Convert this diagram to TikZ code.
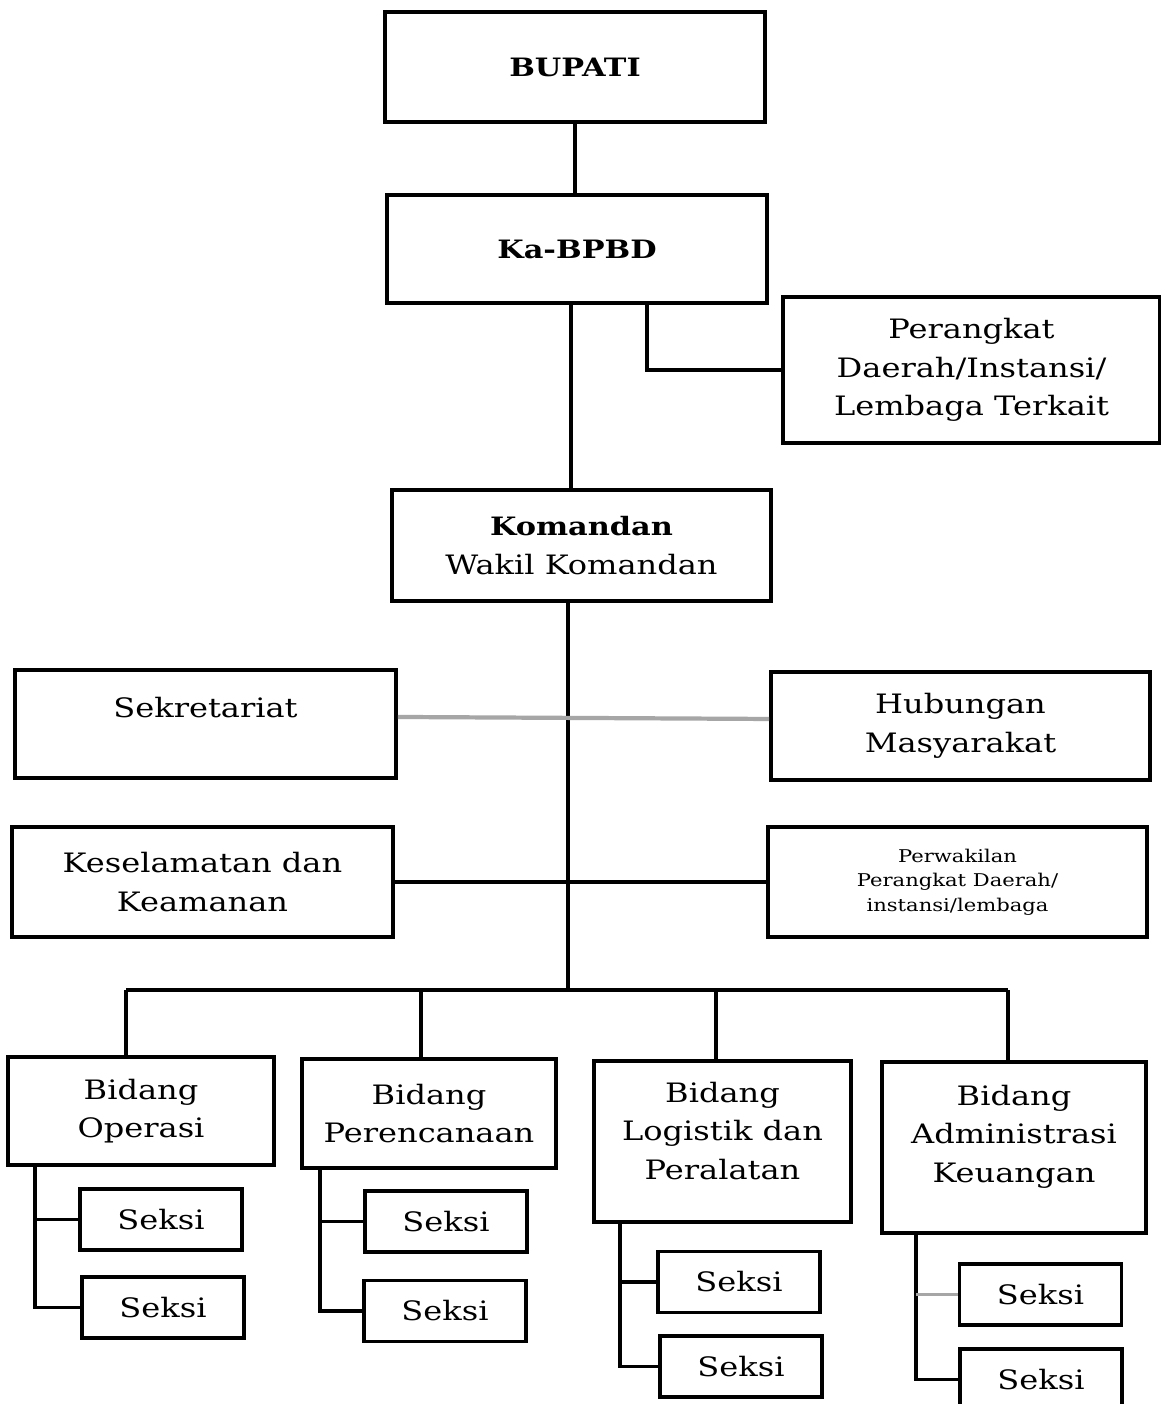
\documentclass[tikz,border=0pt]{standalone}
\usepackage{fontspec}
\setmainfont{DejaVu Serif}[FakeStretch=1.2]
\usetikzlibrary{calc}

\begin{document}
\begin{tikzpicture}[x=0.025cm, y=-0.025cm,
    box/.style 2 args={draw, line width=2.8pt, minimum width=#1*0.025cm, minimum height=#2*0.025cm,
        inner sep=0pt, align=center, font=\fontsize{19}{27.5}\selectfont},
    headbox/.style 2 args={box={#1}{#2}, font=\fontsize{18}{27.5}\selectfont\bfseries},
    seksibox/.style={box={162}{61}},
    link/.style={line width=2.6pt}]
    \useasboundingbox (0,0) rectangle (1161,1404);
    \fill[white] (0,0) rectangle (1161,1404);

    % pimpinan
    \node[headbox={380}{110}] (bupati) at (575,67) {BUPATI};
    \node[headbox={380}{108}] (kabpbd) at (577,249) {Ka-BPBD};
    \node[box={377}{146}] (pdterkait) at (971.5,370) {Perangkat\\Daerah/Instansi/\\Lembaga Terkait};
    \node[box={379}{111}] (komandan) at (581.5,545.5) {{\fontsize{18}{27.5}\selectfont\bfseries Komandan}\\Wakil Komandan};

    % staf komando
    \node[box={381}{108}] (sekretariat) at (205.5,724) {Sekretariat\\[-4pt]~};
    \node[box={379}{108}] (humas) at (960.5,726) {Hubungan\\Masyarakat};
    \node[box={381}{110}] (k3) at (202.5,882) {Keselamatan dan\\Keamanan};
    \node[box={379}{110}, font=\fontsize{12.5}{17.5}\selectfont] (perwakilan) at (957.5,882) {Perwakilan\\Perangkat Daerah/\\instansi/lembaga};

    % bidang
    \node[box={266}{108}] (bidops) at (141,1111) {Bidang\\Operasi};
    \node[box={254}{109}] (bidren) at (429,1113.5) {Bidang\\Perencanaan};
    \node[box={257}{161}] (bidlog) at (722.5,1141.5) {Bidang\\Logistik dan\\Peralatan\\[-12pt]~};
    \node[box={264}{171}] (bidadm) at (1014,1147.5) {Bidang\\Administrasi\\Keuangan\\[-8pt]~};

    % seksi
    \foreach \n/\x/\y in {ops1/161/1219.5, ops2/163/1307.5, ren1/446/1221.5, ren2/445/1311,
        log1/739/1282, log2/741/1366.5, adm1/1040.5/1294.5, adm2/1041/1379.5} {
        \node[seksibox] (\n) at (\x,\y) {Seksi};
    }

    % garis komando
    \draw[link] (bupati.south) -- (bupati.south |- kabpbd.north);
    \draw[link] (571,0 |- kabpbd.south) -- (571,0 |- komandan.north);
    \draw[link] (647,0 |- kabpbd.south) |- (pdterkait.west);
    \coordinate (bus) at (568,990);
    \draw[link] (568,0 |- komandan.south) -- (bus);
    \draw[link, gray!70, line width=3pt] ([yshift=5pt]sekretariat.east) -- ([yshift=5pt]humas.west);
    \draw[link] (k3.east) -- (perwakilan.west);
    \draw[link] (126,0 |- bus) -- (1008,0 |- bus);
    \foreach \x/\b in {126/bidops, 421/bidren, 716/bidlog, 1008/bidadm} {
        \draw[link] (\x,0 |- bus) -- (\x,0 |- \b.north);
    }
    \foreach \x/\b/\s/\t/\c in {35/bidops/ops1/ops2/black, 320/bidren/ren1/ren2/black,
        620/bidlog/log1/log2/black, 916/bidadm/adm1/adm2/gray!70} {
        \draw[link] (\x,0 |- \b.south) |- (\t.west);
        \draw[link, \c] (\x,0 |- \s.west) -- (\s.west);
    }
\end{tikzpicture}
\end{document}
